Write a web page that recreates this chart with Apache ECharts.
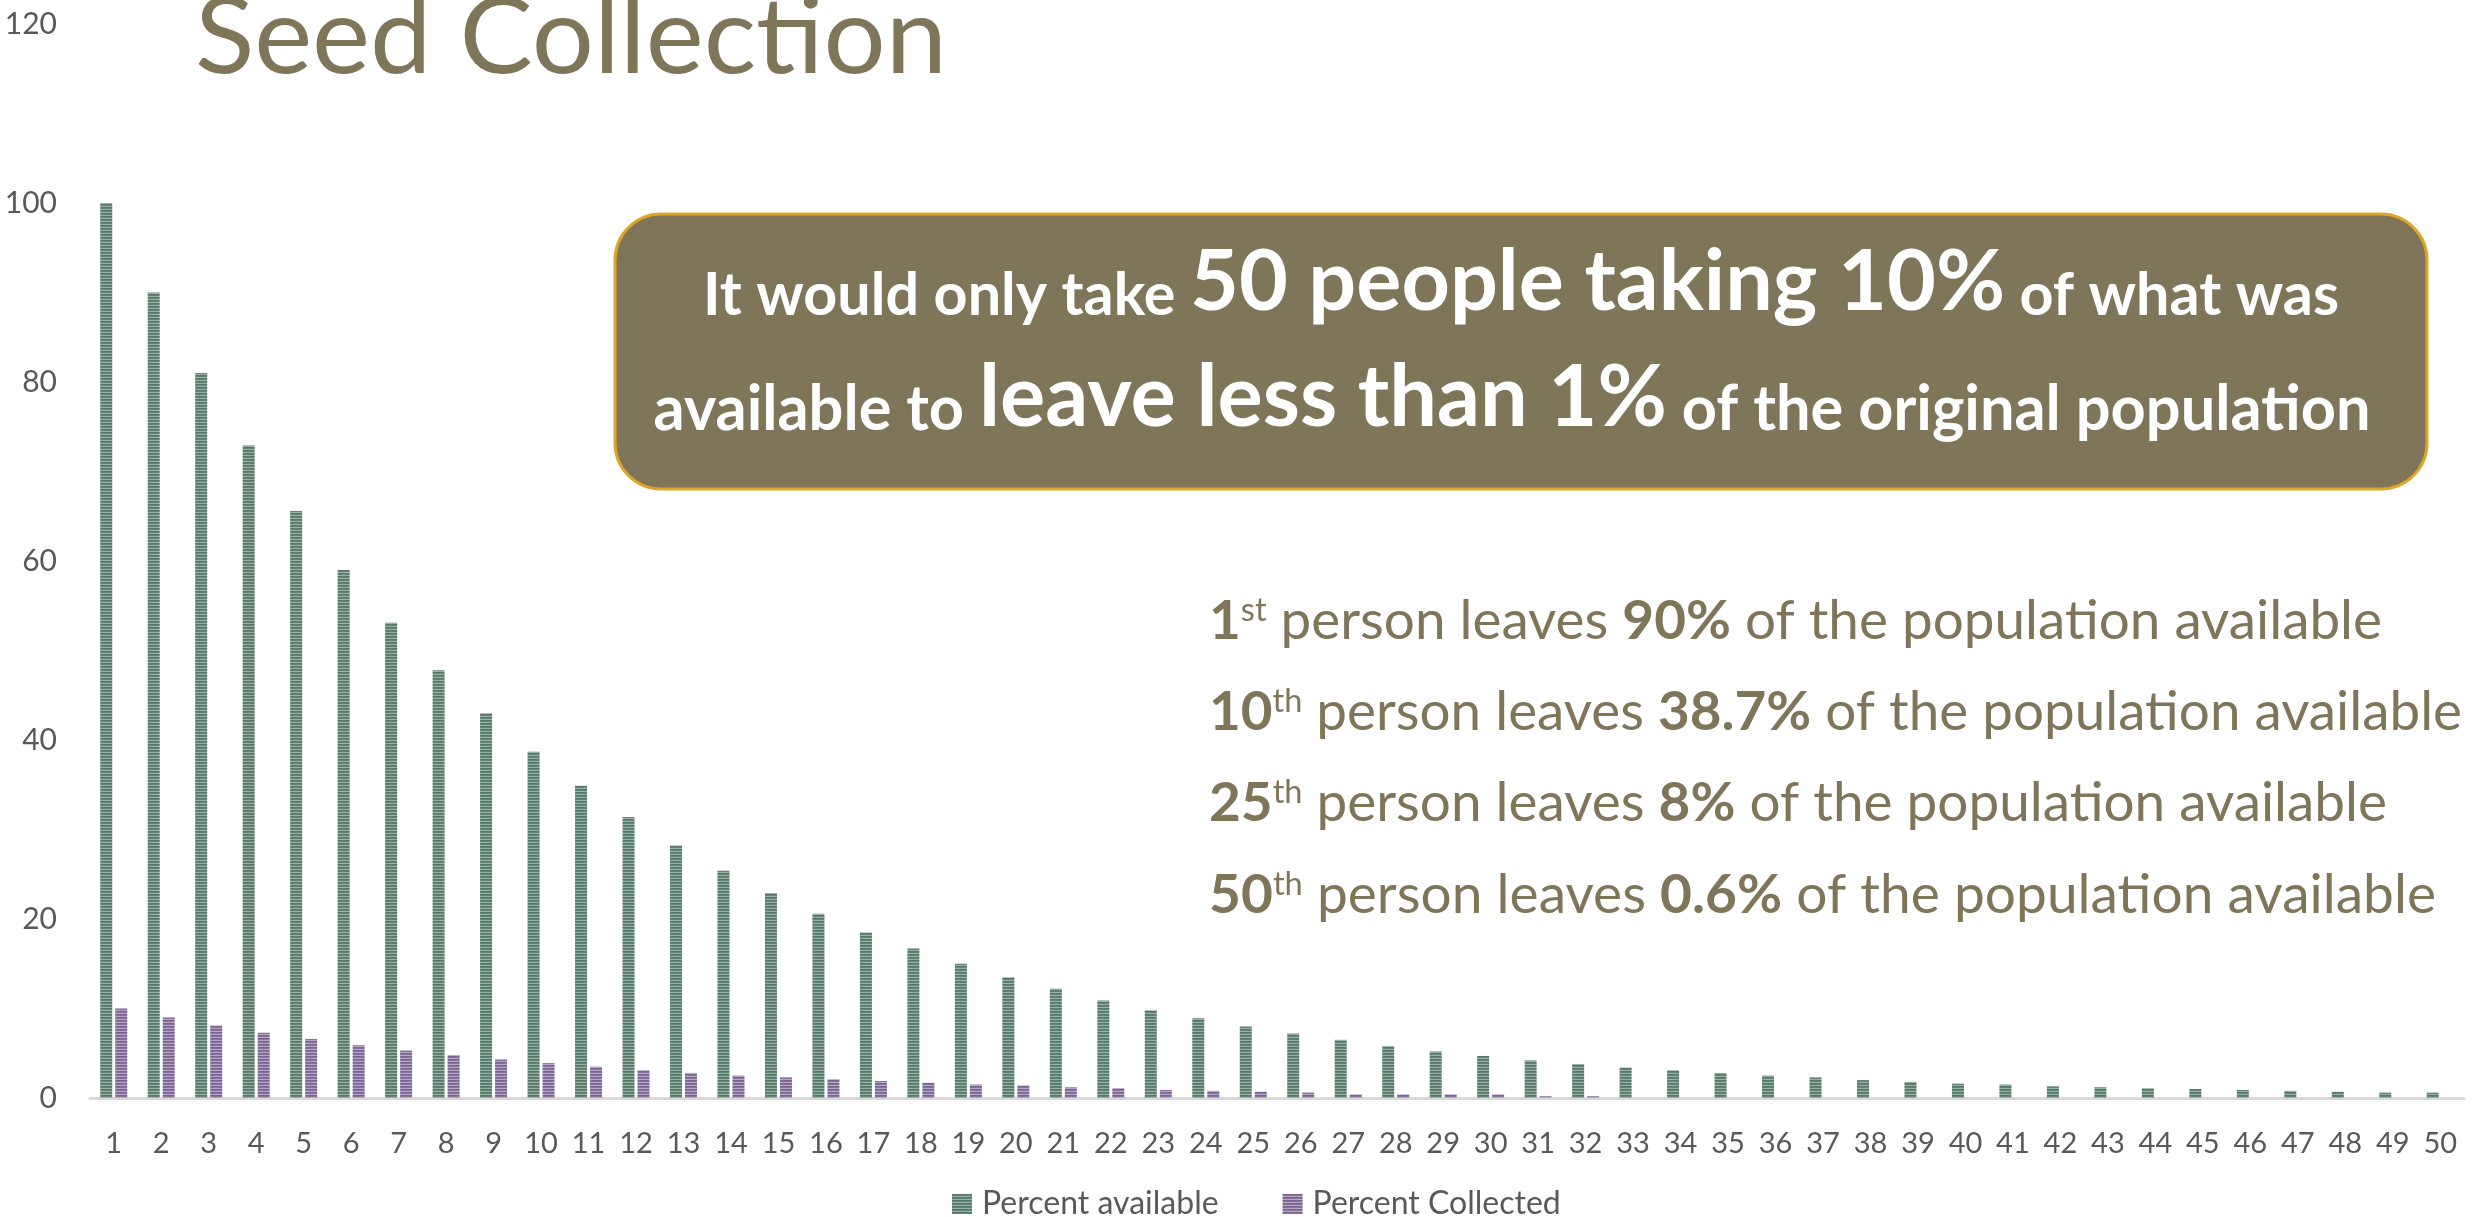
<!DOCTYPE html>
<html><head><meta charset="utf-8">
<script src="https://cdn.jsdelivr.net/npm/echarts@6/dist/echarts.min.js"></script>
<style>html,body{margin:0;padding:0;background:#fff}#c{width:2488px;height:1217px}</style>
</head><body><div id="c"></div>
<script>
// ---- data ----
const categories = ['1','2','3','4','5','6','7','8','9','10','11','12','13','14','15','16','17','18','19','20','21','22','23','24','25','26','27','28','29','30','31','32','33','34','35','36','37','38','39','40','41','42','43','44','45','46','47','48','49','50'];
const availableValues = [100, 90, 81, 72.9, 65.6, 59, 53.1, 47.8, 43, 38.7, 34.9, 31.4, 28.2, 25.4, 22.9, 20.6, 18.5, 16.7, 15, 13.5, 12.2, 10.9, 9.8, 8.9, 8, 7.2, 6.5, 5.8, 5.2, 4.7, 4.2, 3.8, 3.4, 3.1, 2.8, 2.5, 2.3, 2, 1.8, 1.6, 1.5, 1.3, 1.2, 1.1, 1, 0.9, 0.8, 0.7, 0.6, 0.6];
const collectedValues = [10, 9, 8.1, 7.3, 6.6, 5.9, 5.3, 4.8, 4.3, 3.9, 3.5, 3.1, 2.8, 2.5, 2.3, 2.1, 1.9, 1.7, 1.5, 1.4, 1.2, 1.1, 0.9, 0.8, 0.7, 0.6, 0.4, 0.4, 0.4, 0.4, 0.2, 0.2, 0, 0, 0, 0, 0, 0, 0, 0, 0, 0, 0, 0, 0, 0, 0, 0, 0, 0];
const seriesNames = ['Percent available', 'Percent Collected'];
const yMin = 0, yMax = 120, yInterval = 20;
const titleText = 'Seed Collection';
const calloutLines = [
  [['It would only take ', 's'], ['50 people taking 10%', 'b'], [' of what was', 's']],
  [['available to ', 's2'], ['leave less than 1%', 'b2'], [' of the original population', 's2']]
];
const noteLines = [
  [['1', 'n'], ['st', 'sup'], [' person leaves ', 'r'], ['90%', 'n'], [' of the population available', 'r']],
  [['10', 'n'], ['th', 'sup'], [' person leaves ', 'r'], ['38.7%', 'n'], [' of the population available', 'r']],
  [['25', 'n'], ['th', 'sup'], [' person leaves ', 'r'], ['8%', 'n'], [' of the population available', 'r']],
  [['50', 'n'], ['th', 'sup'], [' person leaves ', 'r'], ['0.6%', 'n'], [' of the population available', 'r']]
];

// ---- styles ----
const FONT = 'Lato, "Open Sans", sans-serif';
const OLIVE = '#7f7659';
const GREY = '#595959';

function stripe(colors) {
  const c = document.createElement('canvas');
  c.width = 4; c.height = colors.length;
  const g = c.getContext('2d');
  colors.forEach((col, i) => { g.fillStyle = col; g.fillRect(0, i, 4, 1); });
  return c;
}
const greenPattern = { image: stripe(['#557868', '#628474', '#98b2a6']), repeat: 'repeat' };
const purplePattern = { image: stripe(['#7a6391', '#88729e', '#b6a6c7']), repeat: 'repeat' };

const mctx = document.createElement('canvas').getContext('2d');
function measure(segs, styles) {
  let w = 0;
  for (const [t, k] of segs) {
    const s = styles[k];
    mctx.font = (s.fontWeight || 'normal') + ' ' + s.fontSize + 'px ' + s.fontFamily;
    w += mctx.measureText(t).width;
  }
  return w;
}
function richStr(segs) { return segs.map(([t, k]) => '{' + k + '|' + t + '}').join(''); }

const boxRich = {
  s:  { fontFamily: FONT, fontWeight: 'bold', fontSize: 59, lineHeight: 59, verticalAlign: 'bottom', fill: '#ffffff' },
  b:  { fontFamily: FONT, fontWeight: 'bold', fontSize: 84, lineHeight: 84, verticalAlign: 'bottom', fill: '#ffffff' },
  s2: { fontFamily: FONT, fontWeight: 'bold', fontSize: 63, lineHeight: 63, verticalAlign: 'bottom', fill: '#ffffff' },
  b2: { fontFamily: FONT, fontWeight: 'bold', fontSize: 87, lineHeight: 87, verticalAlign: 'bottom', fill: '#ffffff' }
};
const noteRich = {
  n:   { fontFamily: FONT, fontWeight: 'bold', fontSize: 54, lineHeight: 54, verticalAlign: 'bottom', fill: OLIVE },
  r:   { fontFamily: FONT, fontWeight: 'normal', fontSize: 54, lineHeight: 54, verticalAlign: 'bottom', fill: OLIVE },
  sup: { fontFamily: FONT, fontWeight: 'normal', fontSize: 32, lineHeight: 32, verticalAlign: 'top', fill: OLIVE }
};

// layout (pixels)
const calloutLayout = [
  { cx: 1521, bottom: 325, width: 1636 },
  { cx: 1512, bottom: 441, width: 1717 }
];
const noteLayout = [
  { left: 1209, bottom: 649, width: 1173 },
  { left: 1209, bottom: 740, width: 1253 },
  { left: 1209, bottom: 831, width: 1178 },
  { left: 1209, bottom: 923, width: 1227 }
];

const graphics = [];
// title
const titleFont = 'normal 106px ' + FONT;
mctx.font = titleFont;
const titleW = mctx.measureText(titleText).width;
graphics.push({
  type: 'text', x: 195, y: 92, scaleX: 752 / titleW, z: 100,
  style: { text: titleText, font: titleFont, fontFamily: FONT, fontSize: 106, fontWeight: 'normal',
           lineHeight: 106, fill: OLIVE, align: 'left', textAlign: 'left', verticalAlign: 'bottom', textVerticalAlign: 'bottom' }
});
// callout box
graphics.push({
  type: 'rect', z: 100,
  shape: { x: 615, y: 214, width: 1812, height: 275, r: 46 },
  style: { fill: '#7f7659', stroke: '#dda628', lineWidth: 3 }
});
calloutLines.forEach((segs, i) => {
  const L = calloutLayout[i];
  const w = measure(segs, boxRich);
  graphics.push({
    type: 'text', x: L.cx, y: L.bottom, scaleX: L.width / w, z: 101,
    style: { text: richStr(segs), rich: boxRich, fill: '#fff', align: 'center', textAlign: 'center',
             verticalAlign: 'bottom', textVerticalAlign: 'bottom' }
  });
});
noteLines.forEach((segs, i) => {
  const L = noteLayout[i];
  const w = measure(segs, noteRich);
  graphics.push({
    type: 'text', x: L.left, y: L.bottom, scaleX: L.width / w, z: 101,
    style: { text: richStr(segs), rich: noteRich, fill: OLIVE, align: 'left', textAlign: 'left',
             verticalAlign: 'bottom', textVerticalAlign: 'bottom' }
  });
});

const chart = echarts.init(document.getElementById('c'), null, { renderer: 'canvas' });
chart.setOption({
  animation: false,
  backgroundColor: '#ffffff',
  grid: { left: 90, right: 24, top: 24, bottom: 119, containLabel: false },
  legend: {
    left: 952, top: 1188, padding: 0, itemWidth: 20, itemHeight: 20, itemGap: 64,
    icon: 'rect',
    textStyle: { fontFamily: FONT, fontSize: 32, color: GREY, padding: [0, 0, 0, 5] },
    data: seriesNames
  },
  xAxis: {
    type: 'category', data: categories,
    axisLine: { show: true, lineStyle: { color: '#d9d9d9', width: 3 } },
    axisTick: { show: false },
    axisLabel: { interval: 0, margin: 31, fontFamily: FONT, fontSize: 29, color: GREY }
  },
  yAxis: {
    type: 'value', min: yMin, max: yMax, interval: yInterval,
    axisLine: { show: false }, axisTick: { show: false }, splitLine: { show: false },
    axisLabel: { margin: 33, fontFamily: FONT, fontSize: 30, color: GREY }
  },
  series: [
    { name: seriesNames[0], type: 'bar', data: availableValues, barWidth: 12, barGap: '25%',
      itemStyle: { color: greenPattern } },
    { name: seriesNames[1], type: 'bar', data: collectedValues, barWidth: 12, barGap: '25%',
      itemStyle: { color: purplePattern } }
  ],
  graphic: graphics
});
</script>
</body></html>
